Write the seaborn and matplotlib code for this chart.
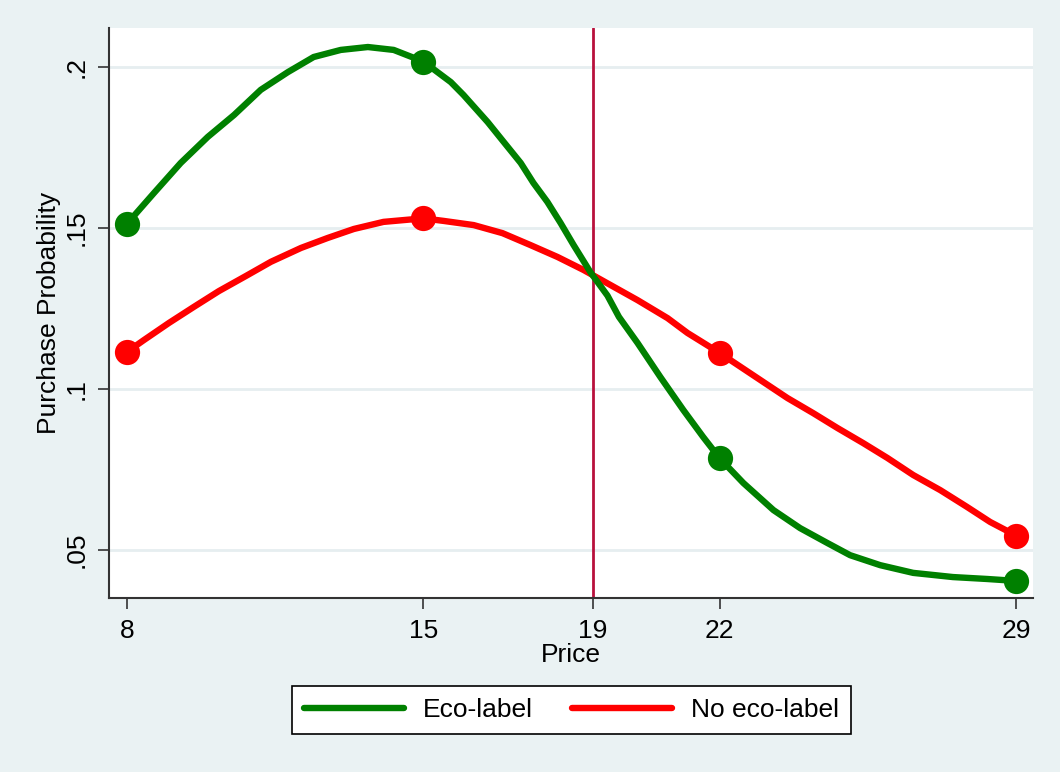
import numpy as np
import pandas as pd
import matplotlib
matplotlib.use('Agg')
import matplotlib.pyplot as plt
import seaborn as sns

# values
price_eco = [8.0, 8.64, 9.27, 9.91, 10.53, 11.16, 11.80, 12.41, 13.05, 13.69, 14.30, 15.0,
             15.65, 15.95, 16.52, 16.90, 17.30, 17.60, 17.93, 18.24, 18.55, 18.95, 19.35,
             19.62, 20.06, 20.60, 21.14, 21.61, 22.0, 22.56, 23.27, 23.90, 24.54, 25.08,
             25.79, 26.57, 27.51, 28.32, 29.0]
prob_eco = [0.1513, 0.1609, 0.1702, 0.1783, 0.1851, 0.1929, 0.1984, 0.2031, 0.2053, 0.2062,
            0.2053, 0.2017, 0.1953, 0.1913, 0.1829, 0.1767, 0.1702, 0.1640, 0.1581, 0.1516,
            0.1447, 0.1362, 0.1290, 0.1224, 0.1143, 0.1037, 0.0935, 0.0851, 0.0785, 0.0708,
            0.0624, 0.0568, 0.0522, 0.0484, 0.0453, 0.0429, 0.0416, 0.0410, 0.0404]

price_no = [8.0, 8.40, 8.99, 9.58, 10.17, 10.81, 11.40, 12.11, 12.74, 13.36, 14.06, 15.0,
            15.48, 16.19, 16.87, 17.53, 18.17, 18.78, 19.42, 20.06, 20.77, 21.24, 22.0,
            22.96, 23.60, 24.21, 24.78, 25.39, 25.96, 26.57, 27.21, 27.84, 28.39, 29.0]
prob_no = [0.1115, 0.1152, 0.1205, 0.1255, 0.1304, 0.1351, 0.1395, 0.1438, 0.1469, 0.1497,
           0.1519, 0.1530, 0.1522, 0.1509, 0.1484, 0.1447, 0.1410, 0.1370, 0.1323, 0.1276,
           0.1220, 0.1174, 0.1112, 0.1028, 0.0972, 0.0925, 0.0879, 0.0832, 0.0786, 0.0733,
           0.0686, 0.0634, 0.0587, 0.0545]

# marked prices
mark_price = [8, 15, 22, 29]
mark_eco = [0.1513, 0.2017, 0.0785, 0.0404]
mark_no = [0.1115, 0.1530, 0.1112, 0.0545]

x_ticks = [8, 15, 19, 22, 29]
y_ticks = [0.05, 0.1, 0.15, 0.2]
y_ticklabels = ['.05', '.1', '.15', '.2']
threshold = 19

bg = '#EAF2F3'
green = '#008000'
red = '#FF0000'
cranberry = '#B8103C'

sns.set_theme(style='white')
plt.rcParams['font.family'] = ['Liberation Sans', 'DejaVu Sans']

fig = plt.figure(figsize=(10.6, 7.72), dpi=100, facecolor=bg)
ax = fig.add_axes([0.1028, 0.2254, 0.8717, 0.7383])
ax.set_facecolor('white')

eco_df = pd.DataFrame({'Price': price_eco, 'Prob': prob_eco})
no_df = pd.DataFrame({'Price': price_no, 'Prob': prob_no})

for y in y_ticks:
    ax.axhline(y, color='#E6EEF0', lw=2, zorder=0)

ax.axvline(threshold, color=cranberry, lw=2, zorder=1)

sns.lineplot(data=eco_df, x='Price', y='Prob', ax=ax, color=green, lw=4.6,
             label='Eco-label', sort=False, zorder=3)
sns.lineplot(data=no_df, x='Price', y='Prob', ax=ax, color=red, lw=4.6,
             label='No eco-label', sort=False, zorder=2)
sns.scatterplot(x=mark_price, y=mark_eco, ax=ax, color=green, s=330, linewidth=0,
                zorder=4, legend=False)
sns.scatterplot(x=mark_price, y=mark_no, ax=ax, color=red, s=330, linewidth=0,
                zorder=4, legend=False)

ax.set_xlim(7.575, 29.40)
ax.set_ylim(0.0351, 0.2121)
ax.set_xticks(x_ticks)
ax.set_xticklabels([str(t) for t in x_ticks])
ax.set_yticks(y_ticks)
ax.set_yticklabels(y_ticklabels, rotation=90, va='center')

ax.tick_params(axis='both', direction='out', length=8, width=1.2, color='#333333',
               labelsize=19, labelcolor='black', left=True, bottom=True)
ax.tick_params(axis='x', pad=7)
ax.tick_params(axis='y', pad=7)

for side in ['top', 'right']:
    ax.spines[side].set_visible(False)
for side in ['left', 'bottom']:
    ax.spines[side].set_color('#333333')
    ax.spines[side].set_linewidth(1.5)

ax.set_xlabel('Price', fontsize=19, color='black', labelpad=0)
ax.set_ylabel('Purchase Probability', fontsize=19, color='black', labelpad=2)

handles, labels = ax.get_legend_handles_labels()
ax.get_legend().remove()
leg = fig.legend(handles, labels, loc='center', bbox_to_anchor=(0.539, 0.080), ncol=2,
                 fontsize=19, frameon=True, fancybox=False, handlelength=3.8,
                 columnspacing=1.5, borderpad=0.45, handletextpad=0.7)
leg.get_frame().set_edgecolor('black')
leg.get_frame().set_linewidth(1.2)
leg.get_frame().set_facecolor('white')
leg.get_frame().set_alpha(1)
for t in leg.get_texts():
    t.set_color('black')

fig.savefig('out.png', dpi=100, facecolor=bg)
